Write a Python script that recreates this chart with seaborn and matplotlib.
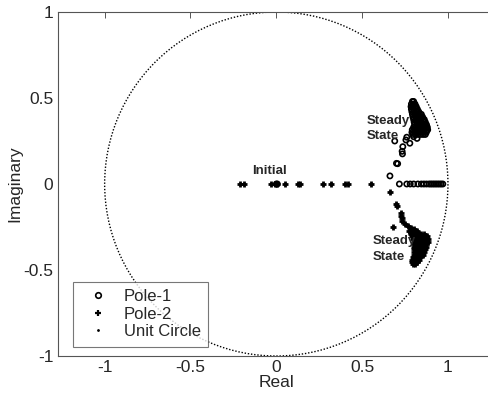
import matplotlib
matplotlib.use("Agg")
import matplotlib.pyplot as plt
import seaborn as sns
import pandas as pd
from matplotlib.patches import Circle
from matplotlib.lines import Line2D

# ---------------- data ----------------
# Pole-1: individual points
pole1_x = [0.000, 0.006, 0.717, 0.760, 0.780, 0.800, 0.825, 0.845, 0.860, 0.875,
           0.890, 0.900, 0.910, 0.920, 0.930, 0.940, 0.950, 0.960, 0.970,
           0.662, 0.700, 0.707, 0.735, 0.733, 0.737, 0.690, 0.755, 0.778, 0.800, 0.820, 0.760]
pole1_y = [0.000, 0.000, 0.000, 0.000, 0.000, 0.000, 0.000, 0.000, 0.000, 0.000,
           0.000, 0.000, 0.000, 0.000, 0.000, 0.000, 0.000, 0.000, 0.000,
           0.047, 0.120, 0.118, 0.175, 0.190, 0.217, 0.250, 0.256, 0.237, 0.275, 0.265, 0.272]
# Pole-1 steady-state cluster (rows of points)
pole1_blob_row_y = [0.48, 0.465, 0.45, 0.435, 0.42, 0.405, 0.39, 0.375, 0.36, 0.345,
                    0.33, 0.315, 0.30, 0.288]
pole1_blob_row_x = [
    [0.793, 0.800],
    [0.787, 0.800, 0.808],
    [0.785, 0.797, 0.810, 0.815],
    [0.787, 0.800, 0.813, 0.822],
    [0.790, 0.803, 0.816, 0.830],
    [0.793, 0.806, 0.820, 0.835, 0.845],
    [0.796, 0.810, 0.824, 0.838, 0.852],
    [0.800, 0.814, 0.828, 0.842, 0.856, 0.862],
    [0.803, 0.817, 0.831, 0.845, 0.859, 0.868],
    [0.806, 0.820, 0.834, 0.848, 0.862, 0.875],
    [0.800, 0.814, 0.828, 0.842, 0.856, 0.870, 0.880],
    [0.792, 0.806, 0.820, 0.834, 0.848, 0.862, 0.876, 0.882],
    [0.790, 0.804, 0.818, 0.832, 0.846, 0.860, 0.874],
    [0.795, 0.810, 0.825, 0.840, 0.855, 0.868],
]

# Pole-2: individual points
pole2_x = [-0.210, -0.190, -0.030, -0.010, 0.005, 0.050, 0.125, 0.140, 0.270, 0.320,
           0.400, 0.415, 0.550,
           0.662, 0.700, 0.703, 0.727, 0.727, 0.730, 0.735, 0.680, 0.750, 0.770, 0.785, 0.800]
pole2_y = [0.000, 0.000, 0.000, 0.000, 0.000, 0.000, 0.000, 0.000, 0.000, 0.000,
           0.000, 0.000, 0.000,
           -0.045, -0.118, -0.125, -0.170, -0.185, -0.200, -0.215, -0.248, -0.230, -0.245, -0.255, -0.262]
# Pole-2 steady-state cluster (rows of points)
pole2_blob_row_y = [-0.275, -0.29, -0.305, -0.32, -0.335, -0.35, -0.365, -0.38, -0.395,
                    -0.41, -0.425, -0.44, -0.455, -0.465]
pole2_blob_row_x = [
    [0.775, 0.790, 0.805, 0.818],
    [0.785, 0.800, 0.815, 0.830, 0.845, 0.860],
    [0.790, 0.805, 0.820, 0.835, 0.850, 0.865, 0.877],
    [0.795, 0.810, 0.825, 0.840, 0.855, 0.870, 0.882],
    [0.800, 0.815, 0.830, 0.845, 0.860, 0.875, 0.882],
    [0.800, 0.815, 0.830, 0.845, 0.860, 0.875],
    [0.800, 0.815, 0.830, 0.845, 0.860, 0.872],
    [0.800, 0.815, 0.830, 0.845, 0.860, 0.867],
    [0.800, 0.815, 0.830, 0.845, 0.860],
    [0.800, 0.815, 0.830, 0.845, 0.852],
    [0.797, 0.810, 0.825, 0.840],
    [0.793, 0.806, 0.820, 0.833],
    [0.792, 0.805, 0.818],
    [0.797, 0.808],
]

tick_values = [-1, -0.5, 0, 0.5, 1]
tick_labels = ["-1", "-0.5", "0", "0.5", "1"]
legend_labels = ["Pole-1", "Pole-2", "Unit Circle"]

# ---------------- build tables ----------------
def expand(xs, ys, row_y, row_x):
    ox, oy = list(xs), list(ys)
    for yv, row in zip(row_y, row_x):
        for xv in row:
            ox.append(xv)
            oy.append(yv)
    return pd.DataFrame({"x": ox, "y": oy})

df1 = expand(pole1_x, pole1_y, pole1_blob_row_y, pole1_blob_row_x)
df2 = expand(pole2_x, pole2_y, pole2_blob_row_y, pole2_blob_row_x)

# ---------------- style ----------------
sns.set_style("white")
plt.rcParams["font.family"] = ["Liberation Sans", "DejaVu Sans"]
plt.rcParams["axes.unicode_minus"] = False

fig = plt.figure(figsize=(4.89, 3.97), dpi=100)
ax = fig.add_axes([58.3 / 489, 41 / 397, 436 / 489, 344 / 397])

# unit circle
ax.add_patch(Circle((0, 0), 1, fill=False, edgecolor="black",
                    linestyle=(0, (1.0, 1.3)), linewidth=1.0, zorder=1))

sns.scatterplot(data=df1, x="x", y="y", ax=ax, marker="o", s=14,
                facecolors="none", edgecolor="black", linewidth=1.2, zorder=3)
sns.scatterplot(data=df2, x="x", y="y", ax=ax, marker="+", s=24,
                color="black", linewidth=2.0, zorder=3)

ax.set_xlim(-1.27, 1.27)
ax.set_ylim(-1, 1)
ax.set_xticks(tick_values)
ax.set_xticklabels(tick_labels)
ax.set_yticks(tick_values)
ax.set_yticklabels(tick_labels)
ax.tick_params(direction="in", length=4, width=0.7, color="#555555",
               labelsize=12.5, top=True, right=True)
ax.tick_params(axis="x", pad=3)
ax.tick_params(axis="y", pad=3.5)
for sp in ax.spines.values():
    sp.set_color("#555555")
    sp.set_linewidth(0.8)

ax.set_xlabel("Real", fontsize=12.5, labelpad=0)
ax.set_ylabel("Imaginary", fontsize=12.5, labelpad=1)

# annotations
tk = dict(fontsize=9.5, fontweight="bold", ha="left", va="center", zorder=5)
ax.text(0.527, 0.368, "Steady", **tk)
ax.text(0.527, 0.279, "State", **tk)
ax.text(0.560, -0.330, "Steady", **tk)
ax.text(0.560, -0.423, "State", **tk)
ax.text(-0.140, 0.077, "Initial", **tk)

handles = [
    Line2D([], [], linestyle="none", marker="o", markersize=4, markerfacecolor="none",
           markeredgecolor="black", markeredgewidth=1.2),
    Line2D([], [], linestyle="none", marker="+", markersize=5, color="black",
           markeredgewidth=1.6),
    Line2D([], [], linestyle="none", marker=".", markersize=2, color="black"),
]
leg = ax.legend(handles, legend_labels, loc="lower left",
                bbox_to_anchor=(0.034, 0.027), borderaxespad=0, fontsize=12,
                frameon=True, fancybox=False, edgecolor="#555555",
                handlelength=2.1, handletextpad=0.5, borderpad=0.45,
                labelspacing=0.15)
leg.get_frame().set_linewidth(0.8)
leg._legend_box.set_width(leg._legend_box.get_width() if hasattr(leg._legend_box, "get_width") else None) if False else None

fig.savefig("out.png", dpi=100)
